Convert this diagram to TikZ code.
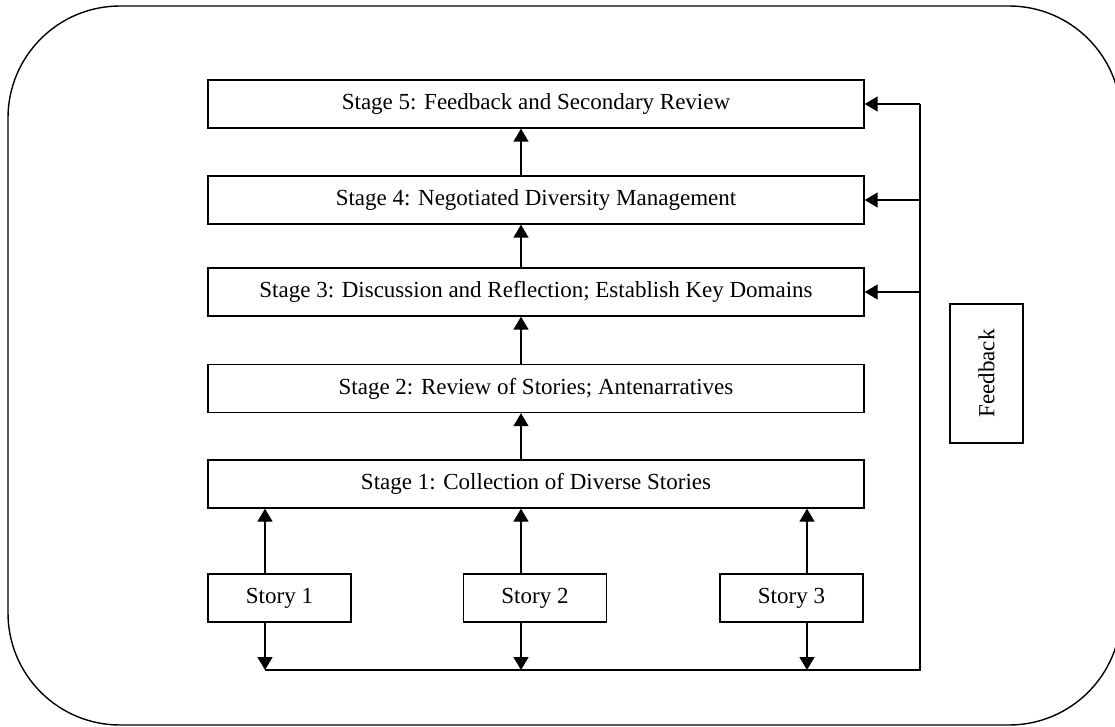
\documentclass[tikz,border=0pt]{standalone}
\usepackage{fontspec}
\setmainfont{Liberation Serif}
\usetikzlibrary{arrows.meta}

\tikzset{every picture/.style={line width=0.7pt}}
\tikzset{
  stagebox/.style={draw, minimum width=328pt, minimum height=24pt, inner sep=0.75pt, font=\fontsize{11.5}{14}\selectfont},
  storybox/.style={draw, minimum width=71.5pt, minimum height=24pt, inner sep=0.75pt, font=\fontsize{11.5}{14}\selectfont},
  arr/.style={-{Triangle[length=6.5pt,width=7.5pt]}}
}

\begin{document}
\begin{tikzpicture}[x=0.5pt,y=0.5pt,yscale=-1,xscale=1]
\useasboundingbox (0,0) rectangle (1115,727);

%Rounded Rect (outer frame)
\draw [rounded corners=56pt] (8,6) rectangle (1121,725);

% Stage Nodes
\node [stagebox] (st5) at (536,104) {Stage 5: Feedback and Secondary Review};
\node [stagebox] (st4) at (536,200) {Stage 4: Negotiated Diversity Management};
\node [stagebox] (st3) at (536,292) {Stage 3: Discussion and Reflection; Establish Key Domains};
\node [stagebox] (st2) at (536,388.5) {Stage 2: Review of Stories; Antenarratives};
\node [stagebox] (st1) at (536,484) {Stage 1: Collection of Diverse Stories};

% Story Nodes
\node [storybox] (s1) at (279.5,598) {Story 1};
\node [storybox] (s2) at (535,598) {Story 2};
\node [storybox] (s3) at (791.5,598) {Story 3};

% Feedback Node
\node [draw, rotate=90, minimum width=69.5pt, minimum height=36.5pt, inner sep=0.75pt, font=\fontsize{11.5}{14}\selectfont] (fbk) at (986.5,373.5) {Feedback};

% Bottom line points
\coordinate (f1) at (265,670);
\coordinate (f2) at (521,670);
\coordinate (f3) at (807,670);
\coordinate (fb) at (920,670);

%Straight Lines (stories up to stage 1)
\draw [arr] (f1 |- s1.north) -- (f1 |- st1.south);
\draw [arr] (f2 |- s2.north) -- (f2 |- st1.south);
\draw [arr] (f3 |- s3.north) -- (f3 |- st1.south);

%Straight Lines (stories down to bottom line)
\draw [arr] (f1 |- s1.south) -- (f1);
\draw [arr] (f2 |- s2.south) -- (f2);
\draw [arr] (f3 |- s3.south) -- (f3);

%Straight Lines (stage to stage)
\draw [arr] (f2 |- st1.north) -- (f2 |- st2.south);
\draw [arr] (f2 |- st2.north) -- (f2 |- st3.south);
\draw [arr] (f2 |- st3.north) -- (f2 |- st4.south);
\draw [arr] (f2 |- st4.north) -- (f2 |- st5.south);

%Straight Lines (feedback loop)
\draw (f1) -- (fb) -- (fb |- st5.east);
\draw [arr] (fb |- st5.east) -- (st5.east);
\draw [arr] (fb |- st4.east) -- (st4.east);
\draw [arr] (fb |- st3.east) -- (st3.east);

\end{tikzpicture}
\end{document}
